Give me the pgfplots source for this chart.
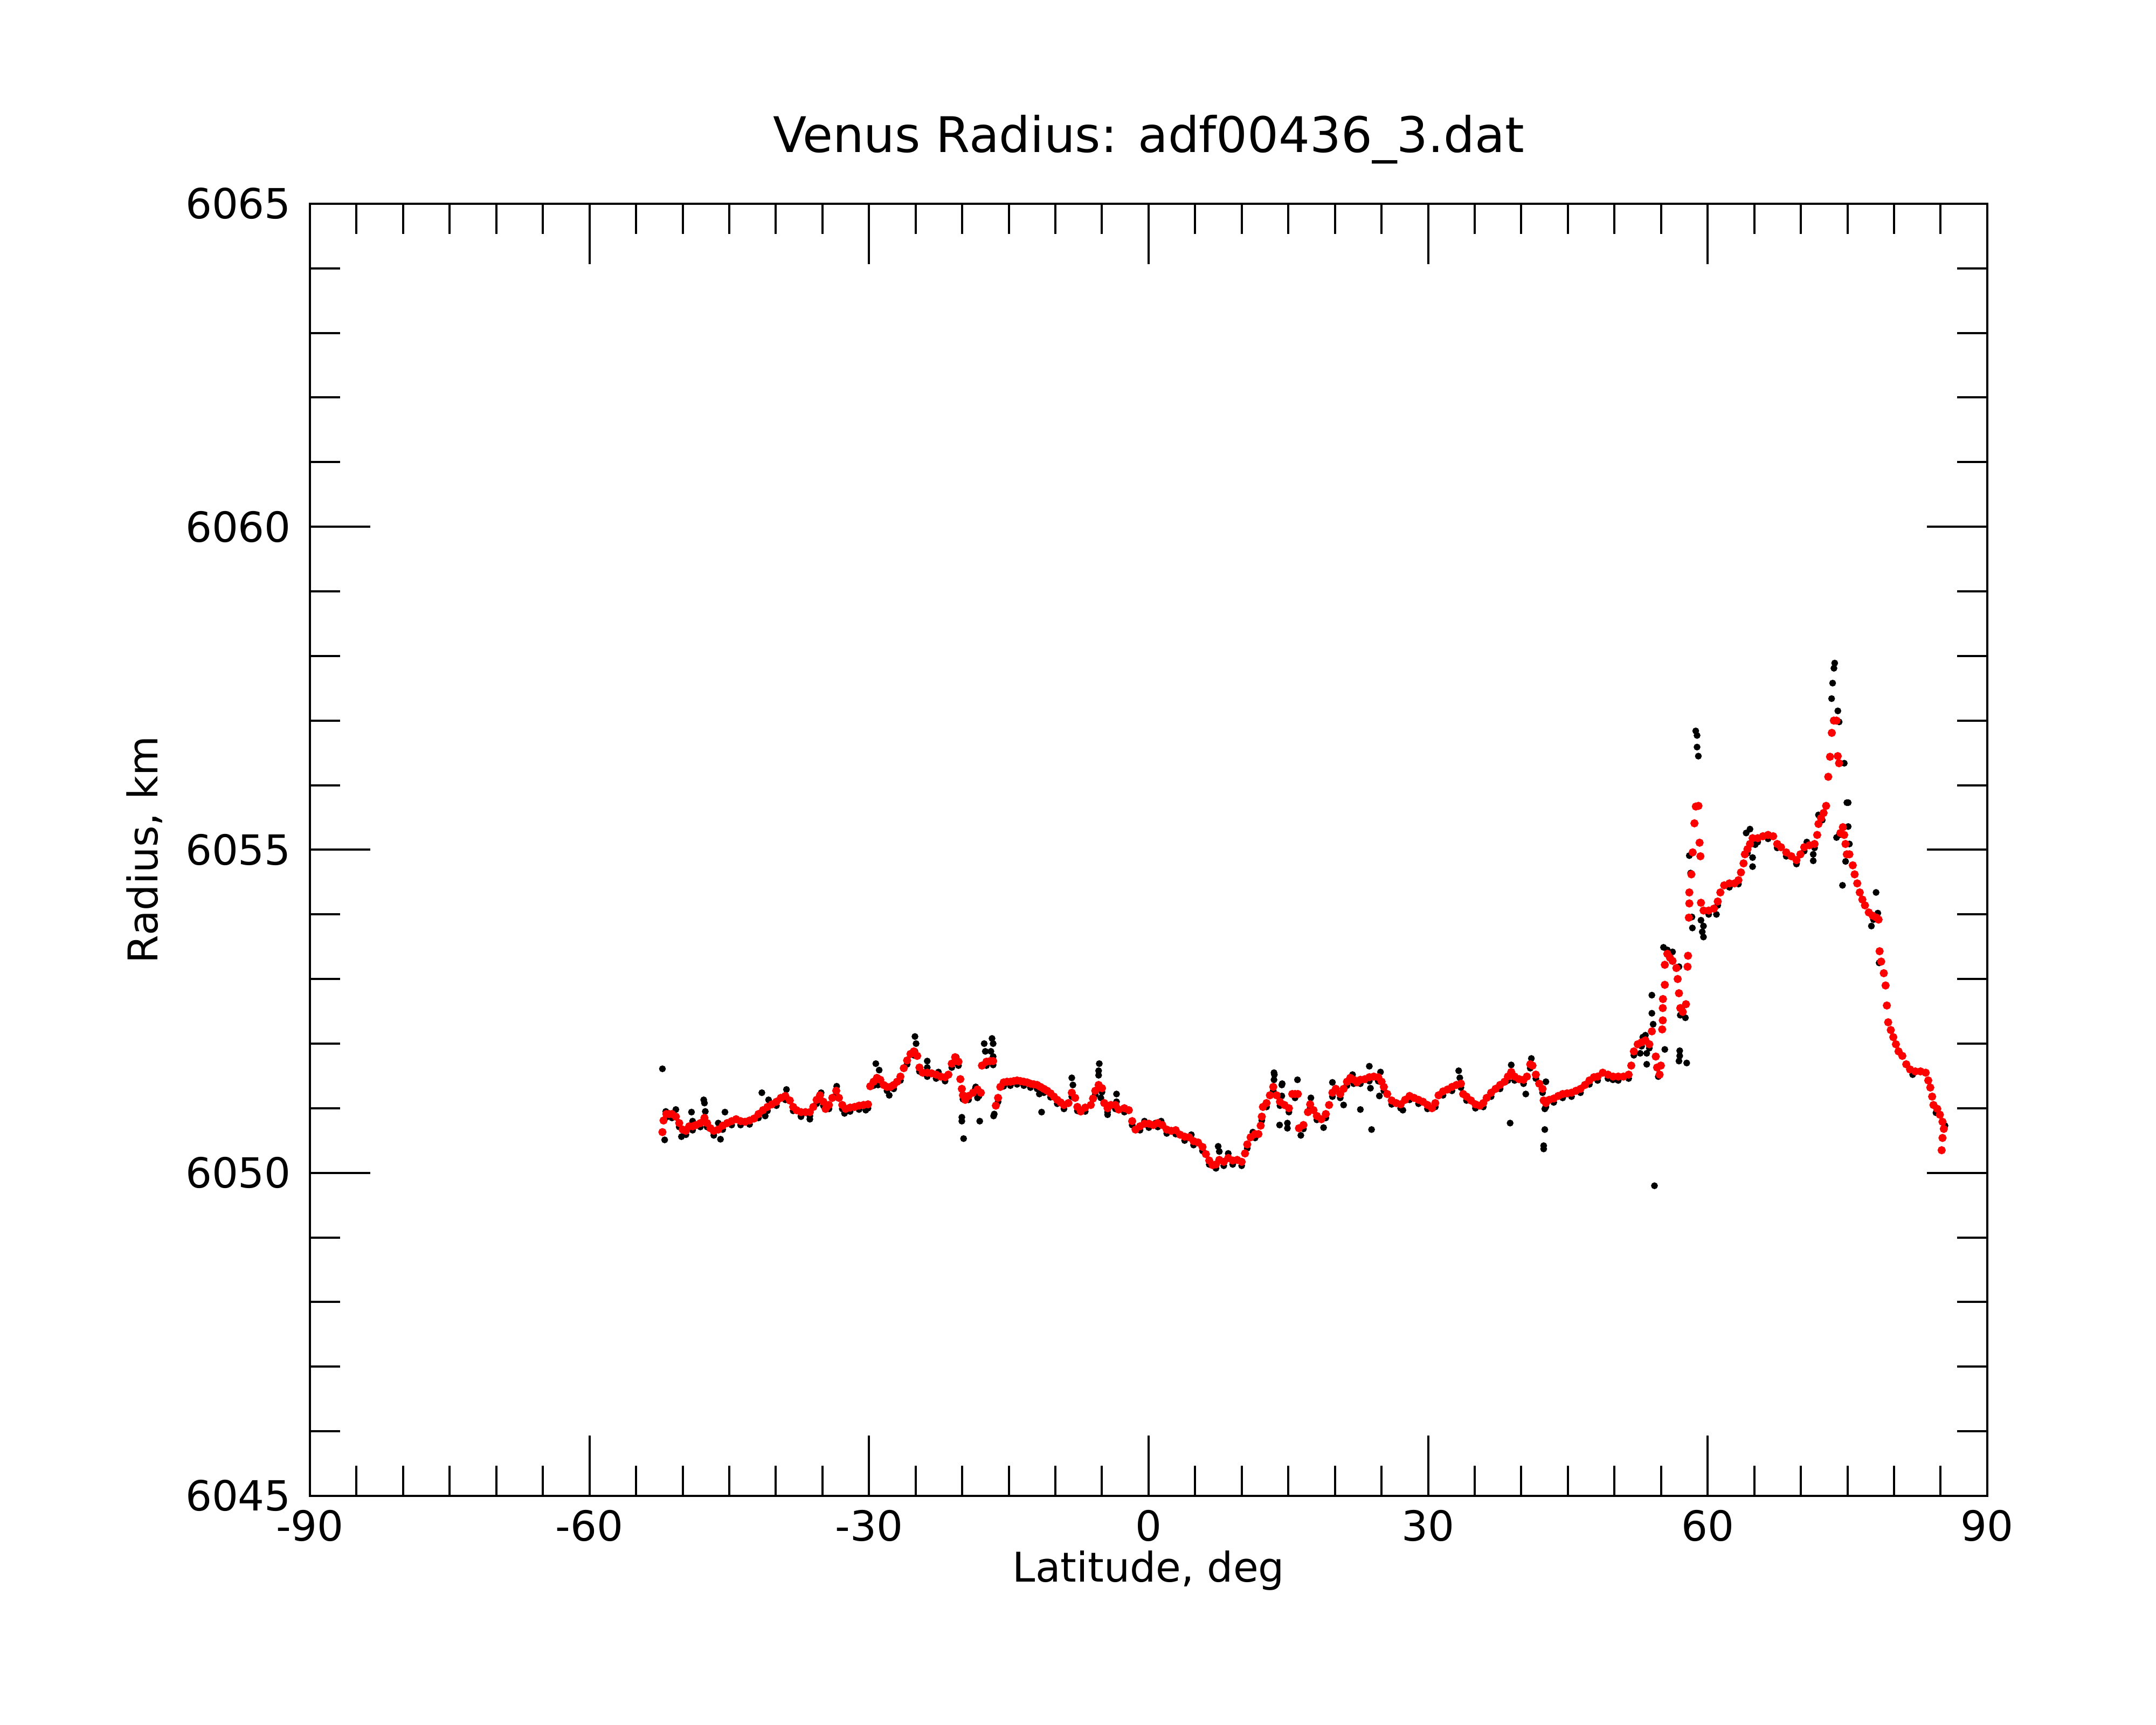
\documentclass[border=0pt]{standalone}
\usepackage{fontspec}
\setmainfont{DejaVu Sans}
\usepackage{pgfplots}
\usepackage{pgfplotstable}
\pgfplotsset{compat=1.18}

\pgfplotstableread{
x y
-52.17 6050.63
-52.05 6050.81
-51.75 6050.91
-51.45 6050.91
-51.15 6050.91
-50.73 6050.87
-50.37 6050.77
-50.00 6050.67
-49.65 6050.65
-49.30 6050.72
-48.93 6050.72
-48.57 6050.74
-48.10 6050.77
-47.66 6050.85
-47.38 6050.77
-47.02 6050.69
-46.66 6050.65
-46.18 6050.67
-45.70 6050.73
-45.22 6050.77
-44.74 6050.80
-44.26 6050.83
-43.78 6050.80
-43.30 6050.79
-42.82 6050.81
-42.34 6050.84
-41.86 6050.91
-41.38 6050.97
-40.90 6051.02
-40.42 6051.06
-39.94 6051.10
-39.46 6051.16
-38.98 6051.19
-38.50 6051.12
-38.14 6051.02
-37.78 6050.97
-37.30 6050.94
-36.82 6050.94
-36.35 6050.94
-35.98 6051.02
-35.62 6051.13
-35.26 6051.20
-34.90 6051.10
-34.66 6050.99
-34.30 6051.05
-33.94 6051.16
-33.52 6051.27
-33.23 6051.16
-32.87 6051.05
-32.51 6050.99
-32.03 6051.01
-31.55 6051.02
-31.07 6051.04
-30.59 6051.05
-30.11 6051.06
-29.87 6051.34
-29.51 6051.41
-29.15 6051.47
-28.79 6051.44
-28.43 6051.36
-28.07 6051.33
-27.71 6051.33
-27.35 6051.36
-26.99 6051.41
-26.63 6051.49
-26.27 6051.62
-25.91 6051.74
-25.55 6051.84
-25.19 6051.88
-24.83 6051.81
-24.59 6051.63
-24.23 6051.55
-23.75 6051.55
-23.28 6051.54
-22.80 6051.52
-22.32 6051.49
-21.84 6051.48
-21.48 6051.52
-21.12 6051.69
-20.76 6051.79
-20.40 6051.72
-20.20 6051.45
-20.04 6051.30
-19.92 6051.20
-19.68 6051.13
-19.32 6051.19
-18.84 6051.24
-18.36 6051.29
-18.00 6051.24
-17.88 6051.66
-17.40 6051.72
-17.00 6051.73
-16.68 6051.73
-16.39 6051.04
-16.15 6051.16
-15.91 6051.33
-15.55 6051.40
-15.19 6051.41
-14.83 6051.41
-14.47 6051.42
-14.11 6051.43
-13.75 6051.42
-13.39 6051.41
-13.03 6051.40
-12.68 6051.38
-12.32 6051.37
-11.96 6051.36
-11.60 6051.33
-11.24 6051.30
-10.88 6051.27
-10.52 6051.23
-10.16 6051.18
-9.80 6051.13
-9.44 6051.09
-9.08 6051.05
-8.60 6051.08
-8.24 6051.24
-7.88 6051.16
-7.64 6051.02
-7.28 6050.95
-6.80 6051.01
-6.20 6051.05
-5.96 6051.15
-5.72 6051.27
-5.36 6051.36
-5.00 6051.31
-4.76 6051.08
-4.40 6051.00
-4.04 6051.05
-3.56 6051.05
-3.20 6050.98
-2.60 6051.00
-2.12 6050.97
-1.76 6050.80
-1.40 6050.67
-0.92 6050.72
-0.45 6050.76
0.03 6050.76
0.51 6050.74
0.99 6050.77
1.47 6050.74
1.95 6050.67
2.43 6050.65
2.91 6050.66
3.39 6050.59
3.87 6050.56
4.35 6050.55
4.83 6050.49
5.31 6050.47
5.79 6050.40
6.15 6050.29
6.51 6050.19
6.87 6050.12
7.23 6050.13
7.59 6050.20
8.07 6050.17
8.55 6050.23
9.03 6050.19
9.51 6050.20
9.99 6050.17
10.35 6050.30
10.59 6050.44
10.95 6050.55
11.43 6050.60
11.79 6050.60
12.03 6050.73
12.15 6050.87
12.27 6051.02
12.66 6051.08
13.02 6051.20
13.38 6051.33
13.74 6051.20
14.10 6051.10
14.58 6051.05
15.06 6051.00
15.42 6051.22
15.72 6051.22
16.02 6051.22
16.14 6050.69
16.62 6050.74
17.10 6050.94
17.34 6051.06
17.70 6050.97
18.06 6050.88
18.54 6050.83
19.02 6050.91
19.37 6051.05
19.73 6051.24
20.09 6051.30
20.57 6051.22
20.93 6051.30
21.29 6051.41
21.65 6051.47
22.01 6051.44
22.37 6051.40
22.73 6051.44
23.21 6051.45
23.69 6051.48
24.17 6051.49
24.65 6051.48
25.01 6051.41
25.25 6051.33
25.61 6051.22
26.09 6051.12
26.57 6051.08
27.05 6051.06
27.53 6051.13
28.01 6051.19
28.49 6051.16
28.97 6051.13
29.45 6051.10
29.93 6051.05
30.41 6051.00
30.77 6051.08
31.12 6051.20
31.60 6051.26
32.08 6051.29
32.56 6051.33
33.04 6051.36
33.52 6051.38
33.76 6051.22
34.12 6051.18
34.60 6051.12
35.08 6051.06
35.56 6051.04
35.92 6051.08
36.28 6051.16
36.76 6051.24
37.24 6051.30
37.72 6051.36
38.20 6051.41
38.56 6051.49
38.92 6051.56
39.28 6051.49
39.76 6051.45
40.24 6051.44
40.60 6051.49
40.96 6051.68
41.20 6051.66
41.56 6051.52
41.92 6051.38
42.28 6051.30
42.40 6051.12
42.64 6051.08
43.00 6051.13
43.48 6051.15
43.96 6051.19
44.44 6051.22
44.91 6051.23
45.39 6051.24
45.87 6051.27
46.35 6051.30
46.83 6051.36
47.31 6051.43
47.79 6051.48
48.19 6051.49
48.74 6051.55
49.30 6051.52
49.85 6051.49
50.40 6051.49
50.96 6051.49
51.52 6051.52
51.80 6051.66
52.08 6051.88
52.49 6051.99
52.91 6052.02
53.32 6052.05
53.74 6051.99
54.01 6052.19
54.43 6051.80
54.57 6051.63
54.84 6051.52
54.98 6051.66
55.12 6052.22
55.18 6052.36
55.18 6052.55
55.20 6052.69
55.40 6052.91
55.40 6053.22
55.67 6053.39
55.95 6053.33
56.23 6053.28
56.64 6053.17
56.78 6053.00
56.92 6052.78
57.06 6052.55
57.33 6052.49
57.67 6052.61
57.84 6053.19
57.89 6053.36
57.98 6053.95
58.03 6054.17
58.03 6054.34
58.25 6054.62
58.39 6054.96
58.58 6055.41
58.73 6055.67
59.01 6055.68
59.13 6055.11
59.22 6054.90
59.28 6054.18
59.56 6054.06
60.11 6054.06
60.67 6054.09
61.08 6054.20
61.36 6054.34
61.77 6054.45
62.33 6054.48
62.88 6054.48
63.30 6054.53
63.57 6054.65
63.85 6054.79
63.99 6054.93
64.27 6055.01
64.54 6055.09
64.82 6055.18
65.37 6055.18
65.93 6055.21
66.48 6055.23
67.03 6055.21
67.46 6055.09
67.87 6055.04
68.43 6054.96
68.98 6054.90
69.53 6054.84
69.95 6054.93
70.36 6055.04
70.92 6055.07
71.47 6055.09
71.75 6055.23
71.89 6055.40
72.16 6055.49
72.44 6055.57
72.71 6055.68
72.94 6056.13
73.13 6056.44
73.32 6056.81
73.54 6057.00
73.82 6057.00
73.96 6056.45
74.10 6056.34
74.24 6055.26
74.51 6055.35
74.65 6055.23
74.79 6055.09
74.93 6054.93
75.21 6054.93
75.57 6054.76
75.77 6054.62
76.05 6054.48
76.32 6054.34
76.60 6054.23
76.88 6054.14
77.29 6054.03
77.71 6053.98
78.12 6053.95
78.34 6053.92
78.45 6053.43
78.62 6053.27
78.90 6053.09
79.09 6052.90
79.23 6052.59
79.37 6052.33
79.65 6052.21
79.92 6052.10
80.20 6051.99
80.48 6051.88
80.89 6051.81
81.31 6051.68
81.72 6051.60
82.28 6051.57
82.84 6051.57
83.40 6051.55
83.67 6051.43
83.89 6051.32
84.09 6051.18
84.23 6051.05
84.64 6050.99
84.92 6050.90
85.20 6050.79
85.34 6050.68
85.20 6050.54
85.11 6050.35
}\smoothed

\pgfplotstableread{
x y
-51.75 6050.86
-51.15 6050.85
-50.37 6050.71
-49.65 6050.59
-48.93 6050.66
-48.10 6050.71
-47.38 6050.71
-46.66 6050.58
-45.70 6050.67
-44.74 6050.74
-43.78 6050.74
-42.82 6050.75
-41.86 6050.85
-40.90 6050.96
-39.94 6051.04
-38.98 6051.13
-38.14 6050.96
-37.30 6050.88
-36.35 6050.88
-35.62 6051.07
-34.90 6051.04
-34.30 6050.99
-33.52 6051.21
-32.87 6050.99
-32.03 6050.95
-31.07 6050.98
-30.11 6051.00
-29.51 6051.35
-28.79 6051.38
-28.07 6051.27
-27.35 6051.30
-26.63 6051.43
-25.91 6051.68
-25.19 6051.82
-24.59 6051.57
-23.75 6051.49
-22.80 6051.46
-21.84 6051.42
-21.12 6051.63
-20.40 6051.66
-19.92 6051.14
-19.32 6051.13
-18.36 6051.23
-17.40 6051.66
-16.68 6051.67
-16.15 6051.10
-15.55 6051.34
-14.83 6051.35
-14.11 6051.37
-13.39 6051.35
-12.68 6051.32
-11.96 6051.30
-11.24 6051.24
-10.52 6051.17
-9.80 6051.07
-9.08 6050.99
-8.24 6051.18
-7.64 6050.96
-6.80 6050.95
-5.72 6051.21
-5.00 6051.25
-4.40 6050.94
-3.56 6050.99
-2.60 6050.94
-1.76 6050.74
-0.92 6050.66
0.03 6050.70
0.99 6050.71
1.95 6050.61
2.91 6050.60
3.87 6050.50
4.83 6050.43
5.79 6050.34
6.51 6050.13
7.23 6050.07
8.07 6050.11
9.03 6050.13
9.99 6050.11
10.59 6050.38
11.43 6050.54
12.15 6050.81
12.66 6051.02
13.38 6051.27
14.10 6051.04
15.06 6050.94
15.72 6051.16
16.62 6050.68
17.34 6051.00
18.06 6050.82
19.02 6050.85
19.73 6051.18
20.57 6051.16
21.29 6051.35
22.01 6051.38
22.73 6051.38
23.69 6051.42
24.65 6051.42
25.25 6051.27
26.09 6051.06
27.05 6051.00
28.01 6051.13
28.97 6051.07
29.93 6050.99
30.77 6051.02
31.60 6051.20
32.56 6051.27
33.52 6051.32
34.12 6051.12
35.08 6051.00
35.92 6051.02
36.76 6051.18
37.72 6051.30
38.56 6051.43
39.28 6051.43
40.24 6051.38
40.96 6051.62
41.56 6051.46
42.28 6051.24
42.64 6051.02
43.48 6051.09
44.44 6051.16
45.39 6051.18
46.35 6051.24
47.31 6051.37
48.19 6051.43
49.30 6051.46
50.40 6051.43
51.52 6051.46
52.08 6051.82
52.91 6051.96
53.74 6051.93
60.11 6054.00
61.08 6054.14
62.33 6054.42
63.30 6054.47
64.27 6054.95
65.37 6055.12
66.48 6055.17
67.46 6055.03
68.43 6054.90
69.53 6054.78
70.36 6054.98
71.47 6055.03
-52.17 6051.61
-51.93 6050.51
-51.81 6050.95
-50.73 6050.98
-50.13 6050.56
-49.05 6050.94
-48.93 6050.80
-47.74 6051.13
-47.66 6051.08
-47.57 6050.95
-46.66 6050.62
-45.94 6050.52
-45.46 6050.94
-46.18 6050.77
-41.50 6051.24
-40.78 6051.13
-41.14 6050.88
-38.86 6051.29
-37.30 6050.87
-36.35 6050.83
-35.14 6051.24
-33.47 6051.34
-32.63 6050.92
-30.35 6050.97
-29.27 6051.69
-28.91 6051.59
-29.03 6051.36
-27.83 6051.20
-25.07 6052.11
-24.95 6052.00
-25.07 6051.88
-23.75 6051.73
-23.75 6051.63
-22.55 6051.56
-20.64 6051.79
-20.04 6050.80
-20.04 6050.86
-19.85 6050.53
-18.60 6051.30
-18.36 6051.16
-18.12 6050.80
-17.64 6052.00
-17.52 6051.88
-16.80 6052.08
-16.68 6052.00
-16.92 6051.88
-16.68 6051.80
-16.56 6050.91
-18.19 6051.19
-18.55 6051.33
-16.63 6050.88
-11.48 6050.94
-11.72 6051.22
-8.24 6051.47
-8.12 6051.36
-5.29 6051.69
-5.36 6051.58
-5.36 6051.51
-5.12 6051.16
-3.44 6051.22
-3.44 6051.10
-4.40 6050.90
-0.44 6050.80
0.75 6050.77
1.35 6050.80
4.59 6050.59
7.47 6050.41
7.59 6050.33
8.55 6050.30
11.19 6050.63
13.46 6051.55
13.46 6051.44
14.30 6051.36
14.30 6051.19
14.06 6050.74
14.90 6050.77
14.90 6050.69
15.98 6051.44
16.34 6050.58
17.42 6051.16
13.50 6051.52
14.34 6051.38
18.78 6050.70
19.73 6051.40
20.93 6051.05
21.89 6051.52
22.73 6050.98
23.69 6051.65
23.81 6051.31
23.93 6050.67
24.77 6051.19
24.89 6051.56
27.29 6050.97
33.28 6051.58
33.40 6051.47
38.92 6051.67
38.80 6050.77
40.48 6051.22
41.08 6051.77
42.64 6051.41
42.52 6050.99
42.52 6050.67
42.40 6050.42
42.40 6050.37
49.83 6051.44
73.63 6057.89
73.55 6057.81
73.41 6057.58
73.30 6057.34
73.97 6057.15
74.11 6056.98
74.66 6056.34
74.94 6055.73
75.08 6055.73
73.83 6055.19
74.47 6054.45
74.80 6054.82
75.08 6055.36
75.21 6055.09
74.11 6055.23
78.07 6054.34
78.26 6054.02
77.57 6053.82
77.79 6053.92
78.40 6053.25
58.72 6056.84
58.86 6056.77
58.86 6056.59
59.00 6056.45
58.03 6054.91
58.17 6054.64
58.31 6053.96
58.36 6053.79
59.28 6053.91
59.55 6053.82
59.42 6053.73
59.55 6053.65
60.94 6054.00
55.26 6053.49
55.67 6053.45
56.23 6053.42
56.92 6053.19
55.40 6051.91
57.00 6051.89
57.00 6051.81
56.92 6051.73
57.75 6051.70
54.01 6052.75
54.01 6052.47
54.15 6052.30
53.32 6052.13
53.04 6052.10
53.46 6051.85
53.46 6051.68
52.76 6051.85
54.70 6051.49
54.29 6049.80
57.20 6052.55
57.06 6052.44
57.61 6052.40
64.13 6055.26
64.54 6055.32
64.68 6055.09
64.82 6054.88
64.82 6054.74
65.10 6055.08
66.35 6055.22
69.53 6054.79
70.64 6055.12
71.33 6054.93
71.33 6054.83
71.89 6055.54
72.30 6055.46
82.00 6051.52
84.50 6050.93
85.47 6050.73
}\raw

\begin{document}
\begin{tikzpicture}
\path[use as bounding box] (-57.5pt,-42.5pt) rectangle (342.5pt,277.5pt);
\begin{axis}[
  at={(0pt,0pt)}, anchor=south west,
  scale only axis, width=311.2pt, height=239.7pt,
  xmin=-90, xmax=90, ymin=6045, ymax=6065,
  xtick={-90,-60,-30,0,30,60,90},
  xticklabels={-90,-60,-30,0,30,60,90},
  minor x tick num=5,
  ytick={6045,6050,6055,6060,6065},
  yticklabels={6045,6050,6055,6060,6065},
  minor y tick num=4,
  tick align=inside,
  major tick length=11.2pt,
  minor tick length=5.6pt,
  axis line style={line width=0.43pt},
  every tick/.style={black, line width=0.4pt},
  tick label style={font=\fontsize{7.7}{9}\selectfont},
  xticklabel style={anchor=north, inner sep=0pt, yshift=-2.4pt},
  yticklabel style={anchor=east, inner sep=0pt, xshift=-3.3pt},
  every axis title/.style={at={(axis description cs:0.5,1.04)}, anchor=base, inner sep=0pt, font=\fontsize{9.1}{11}\selectfont},
  title={Venus Radius: adf00436\_3.dat},
  xlabel={Latitude, deg},
  xlabel style={at={(axis description cs:0.5,-0.0667)}, anchor=base, inner sep=0pt, font=\fontsize{7.6}{9}\selectfont},
  ylabel={Radius, km},
  ylabel style={at={(axis description cs:-0.0909,0.5)}, anchor=base, inner sep=0pt, font=\fontsize{7.6}{9}\selectfont},
]
\addplot[black, only marks, mark=*, mark size=0.42pt, mark options={solid, fill=black, draw=none}] table[x=x, y=y] {\raw};
\addplot[red, only marks, mark=*, mark size=0.55pt, mark options={solid, fill=red, draw=none}] table[x=x, y=y] {\smoothed};
\end{axis}
\end{tikzpicture}
\end{document}
